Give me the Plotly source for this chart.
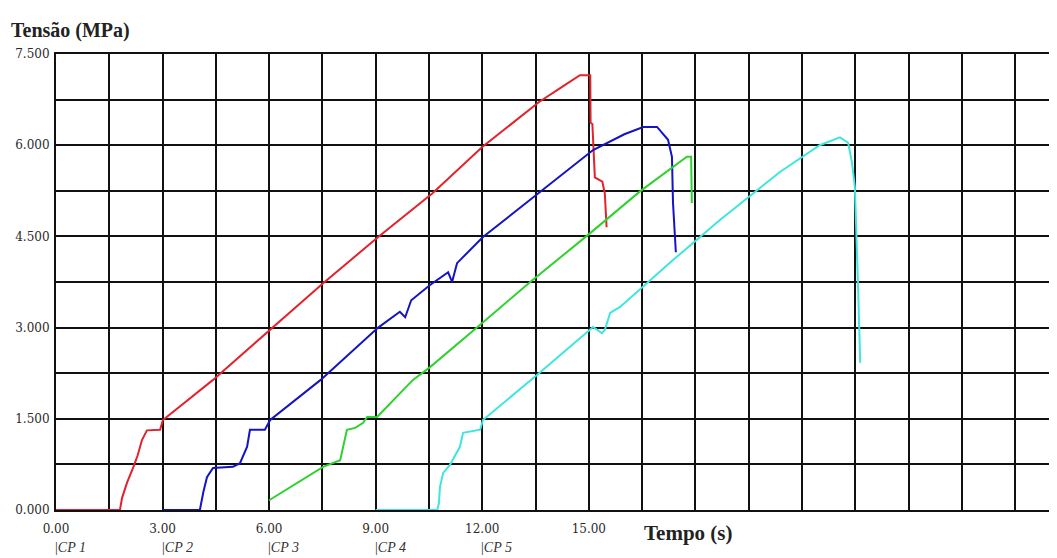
import plotly.graph_objects as go

# Data (time in s, stress in MPa)
cp1_t = [0.0, 1.80, 1.86, 2.00, 2.18, 2.30, 2.42, 2.56, 2.93, 3.01, 4.42, 6.08, 7.52, 9.07, 10.6, 12.0, 13.6, 14.3, 14.75, 15.04, 15.05, 15.10, 15.17, 15.38, 15.45, 15.50]
cp1_s = [0.0, 0.00, 0.20, 0.45, 0.71, 0.90, 1.15, 1.31, 1.32, 1.48, 2.14, 3.00, 3.73, 4.49, 5.21, 5.97, 6.71, 6.98, 7.15, 7.15, 6.37, 6.35, 5.47, 5.40, 5.21, 4.65]

cp2_t = [3.0, 4.05, 4.15, 4.25, 4.42, 4.98, 5.18, 5.38, 5.46, 5.88, 6.03, 7.45, 9.07, 9.68, 9.83, 10.0, 10.53, 11.04, 11.15, 11.29, 12.02, 13.57, 15.12, 16.0, 16.53, 16.92, 17.23, 17.34, 17.37, 17.45]
cp2_s = [0.0, 0.00, 0.30, 0.54, 0.69, 0.71, 0.77, 1.04, 1.32, 1.32, 1.48, 2.14, 3.00, 3.26, 3.17, 3.45, 3.70, 3.91, 3.75, 4.06, 4.49, 5.21, 5.92, 6.18, 6.30, 6.30, 6.09, 5.81, 5.05, 4.24]

cp3_t = [6.0, 7.52, 8.0, 8.19, 8.42, 8.64, 8.76, 9.04, 10.05, 10.53, 11.85, 13.35, 15.03, 16.44, 17.76, 17.88, 17.90]
cp3_s = [0.16, 0.71, 0.82, 1.32, 1.35, 1.43, 1.53, 1.53, 2.14, 2.35, 3.00, 3.75, 4.55, 5.24, 5.81, 5.81, 5.05]

cp4_t = [9.0, 10.73, 10.78, 10.81, 10.90, 11.09, 11.37, 11.46, 11.94, 12.02, 13.54, 15.03, 15.12, 15.37, 15.45, 15.60, 15.88, 17.37, 18.69, 20.38, 21.5, 22.07, 22.3, 22.41, 22.49, 22.58, 22.64]
cp4_s = [0.0, 0.00, 0.11, 0.38, 0.61, 0.74, 1.04, 1.27, 1.32, 1.48, 2.22, 2.96, 3.01, 2.91, 2.96, 3.24, 3.34, 4.11, 4.77, 5.56, 6.00, 6.13, 6.04, 5.71, 5.31, 3.67, 2.42]

series = [
    ("CP 1", cp1_t, cp1_s, "#e3222c"),
    ("CP 2", cp2_t, cp2_s, "#1414c4"),
    ("CP 3", cp3_t, cp3_s, "#2ed12e"),
    ("CP 4", cp4_t, cp4_s, "#3fe6dd"),
]

x_grid = [i * 1.5 for i in range(19)]
x_labels = ["0.00", "3.00", "6.00", "9.00", "12.00", "15.00"]
x_text = [x_labels[i // 2] if (i % 2 == 0 and i // 2 < len(x_labels)) else "" for i in range(len(x_grid))]
y_grid = [i * 0.75 for i in range(11)]
y_labels = ["0.000", "1.500", "3.000", "4.500", "6.000", "7.500"]
y_text = [y_labels[i // 2] if i % 2 == 0 else "" for i in range(len(y_grid))]

cp_labels = ["CP 1", "CP 2", "CP 3", "CP 4", "CP 5"]
cp_pos = [0, 3, 6, 9, 12]

fig = go.Figure()
for name, t, s, c in series:
    fig.add_trace(go.Scatter(x=t, y=s, mode="lines", name=name,
                             line=dict(color=c, width=2), showlegend=False))

serif = "Liberation Serif, Times New Roman, serif"
tickfam = "DejaVu Serif, Liberation Serif, serif"

# page has an 8px body margin; figure sized so the plot fills the window
fig.update_layout(
    width=1049, height=550,
    margin=dict(l=48, r=0, t=46, b=48),
    paper_bgcolor="white", plot_bgcolor="white",
    font=dict(family=serif, color="#222222"),
    xaxis=dict(range=[0, 28.18], tickvals=x_grid, ticktext=x_text,
               showgrid=True, gridcolor="#111111", gridwidth=2,
               showline=True, linecolor="#111111", linewidth=2, mirror=True,
               zeroline=False, ticks="", tickfont=dict(size=12, family=tickfam, color="#2a2a2a"),
               ticklabelstandoff=7),
    yaxis=dict(range=[0, 7.5], tickvals=y_grid, ticktext=y_text,
               showgrid=True, gridcolor="#111111", gridwidth=2,
               showline=True, linecolor="#111111", linewidth=2, mirror=False,
               zeroline=False, ticks="", tickfont=dict(size=12, family=tickfam, color="#2a2a2a"),
               ticklabelstandoff=2),
)

annotations = [
    dict(text="<b>Tensão (MPa)</b>", xref="paper", yref="paper", x=-0.047, y=1.0526,
         xanchor="left", yanchor="middle", showarrow=False,
         font=dict(size=20, family=serif, color="#222222")),
    dict(text="<b>Tempo (s)</b>", xref="x", yref="paper", x=16.5, y=-0.0504,
         xanchor="left", yanchor="middle", showarrow=False,
         font=dict(size=21, family=serif, color="#222222")),
]
for lab, p in zip(cp_labels, cp_pos):
    annotations.append(dict(text="|<i>" + lab + "</i>", xref="x", yref="paper", x=p, y=-0.0833,
                            xanchor="left", yanchor="middle", showarrow=False, xshift=-3,
                            font=dict(size=14, family=serif, color="#333333")))
fig.update_layout(annotations=annotations)

fig.write_html("out.html")
